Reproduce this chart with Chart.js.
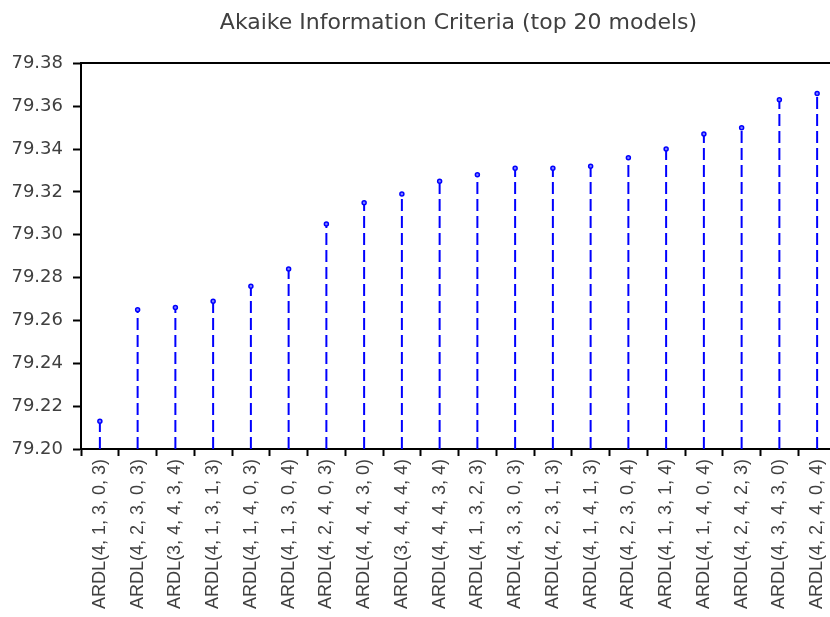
<!DOCTYPE html>
<html>
<head>
<meta charset="utf-8">
<script src="https://cdn.jsdelivr.net/npm/chart.js@4.4.0/dist/chart.umd.min.js"></script>
<style>
  html, body { margin: 0; background: #fff; overflow: hidden; }
</style>
</head>
<body>
<canvas id="chart" width="836" height="617"></canvas>
<script>
var models = [
    "ARDL(4, 1, 3, 0, 3)", "ARDL(4, 2, 3, 0, 3)", "ARDL(3, 4, 4, 3, 4)", "ARDL(4, 1, 3, 1, 3)",
    "ARDL(4, 1, 4, 0, 3)", "ARDL(4, 1, 3, 0, 4)", "ARDL(4, 2, 4, 0, 3)", "ARDL(4, 4, 4, 3, 0)",
    "ARDL(3, 4, 4, 4, 4)", "ARDL(4, 4, 4, 3, 4)", "ARDL(4, 1, 3, 2, 3)", "ARDL(4, 3, 3, 0, 3)",
    "ARDL(4, 2, 3, 1, 3)", "ARDL(4, 1, 4, 1, 3)", "ARDL(4, 2, 3, 0, 4)", "ARDL(4, 1, 3, 1, 4)",
    "ARDL(4, 1, 4, 0, 4)", "ARDL(4, 2, 4, 2, 3)", "ARDL(4, 3, 4, 3, 0)", "ARDL(4, 2, 4, 0, 4)"
];
var aic = [
    79.213, 79.265, 79.266, 79.269, 79.276, 79.284, 79.305, 79.315, 79.319, 79.325,
    79.328, 79.331, 79.331, 79.332, 79.336, 79.340, 79.347, 79.350, 79.363, 79.366
];
var yMin = 79.20;
var yMax = 79.38;
var yStep = 0.02;

// each model is a dashed stem from the axis floor up to its value
var stems = [];
models.forEach(function (m, i) {
    stems.push({ x: m, y: yMin });
    stems.push({ x: m, y: aic[i] });
    stems.push({ x: m, y: null });
});

var textColor = '#404040';
var narrowFont = 'Liberation Sans, Arial, sans-serif';
var wideFont = 'DejaVu Sans, sans-serif';

var ctx = document.getElementById('chart').getContext('2d');
var aicChart = new Chart(ctx, {
    type: 'line',
    data: {
        labels: models,
        datasets: [{
            label: 'AIC',
            data: stems,
            borderColor: '#0000ff',
            borderWidth: 2,
            borderDash: [12, 5],
            spanGaps: false,
            pointRadius: function (c) { return c.index % 3 === 1 ? 2 : 0; },
            pointBorderColor: '#0000ff',
            pointBackgroundColor: '#8080ff',
            pointBorderWidth: 1.5
        }]
    },
    options: {
        responsive: false,
        animation: false,
        layout: { padding: { left: 0, right: 0, top: 0, bottom: 4 } },
        plugins: {
            legend: { display: false },
            tooltip: { enabled: false },
            title: {
                display: true,
                fullSize: false,
                text: 'Akaike Information Criteria (top 20 models)',
                color: textColor,
                font: { family: wideFont, size: 22, weight: 'normal' },
                padding: { top: 10, bottom: 27 }
            }
        },
        scales: {
            x: {
                type: 'category',
                offset: true,
                grid: { offset: true, drawOnChartArea: false, tickLength: 7, tickColor: '#000', tickWidth: 2 },
                border: { color: '#000', width: 2 },
                ticks: {
                    autoSkip: false,
                    minRotation: 90,
                    maxRotation: 90,
                    padding: 3,
                    color: textColor,
                    font: { family: narrowFont, size: 18 }
                },
                afterFit: function (scale) {
                    scale.height = 164;
                    scale.paddingLeft = 0;
                    scale.paddingRight = 0;
                }
            },
            xTop: {
                type: 'category',
                position: 'top',
                offset: true,
                grid: { drawOnChartArea: false, drawTicks: false },
                border: { color: '#000', width: 2 },
                ticks: { display: false }
            },
            y: {
                min: yMin,
                max: yMax,
                grid: { drawOnChartArea: false, tickLength: 8, tickColor: '#000', tickWidth: 2 },
                border: { color: '#000', width: 2 },
                ticks: {
                    stepSize: yStep,
                    padding: 10,
                    color: textColor,
                    font: { family: wideFont, size: 18 },
                    callback: function (v) { return v.toFixed(2); }
                },
                afterFit: function (scale) { scale.width = 81; }
            }
        }
    }
});
</script>
</body>
</html>
